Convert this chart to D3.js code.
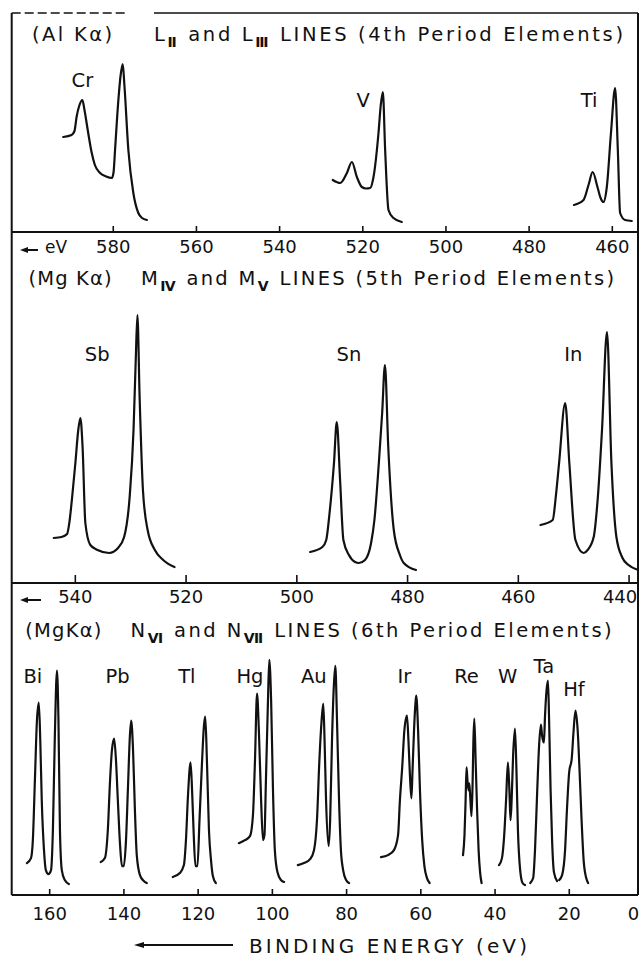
<!DOCTYPE html>
<html>
<head>
<meta charset="utf-8">
<script src="https://cdn.jsdelivr.net/npm/d3@7"></script>
<style>
  html, body { margin: 0; padding: 0; background: #fff; }
  svg { display: block; }
  text { font-family: "DejaVu Sans", "Noto Sans", sans-serif; fill: #111; }
</style>
</head>
<body>
<svg id="chart" width="640" height="959"></svg>
<script>
// ---------- axis ranges (binding energy, eV) and tick values ----------
const rangeL = [604.3, 453.7];
const rangeM = [551.4, 438.3];
const rangeN = [170.1, 1.35];
const ticksL = [580, 560, 540, 520, 500, 480, 460];
const ticksM = [540, 520, 500, 480, 460, 440];
const ticksN = [160, 140, 120, 100, 80, 60, 40, 20, 0];

// ---------- spectra: [binding energy (eV), intensity (arb. units)] ----------
// L(II), L(III) lines, 4th period (Al K-alpha)
const crL23 = [[591.9,95],[589.9,97],[589.2,101],[588.7,115],[588.0,127],[587.3,132],[586.8,122],[585.9,99],[585.1,80],[584.3,67],[583.05,59],[581.6,55.5],[580.2,54],[579.8,60],[579.45,82],[578.65,132],[578.1,157],[577.6,168],[577.2,147],[576.25,82],[575.05,39],[573.85,19],[572.95,14],[571.8,12]];
const vL23 = [[527.1,52],[525.3,49],[523.7,59],[522.5,70],[521.3,55],[520.1,45],[519.1,43.5],[518.1,44],[517.3,55],[516.1,99],[515.55,127],[515.05,140],[514.5,82],[513.7,22],[512.5,14],[510.5,10]];
const tiL23 = [[469.1,27],[466.8,32],[465.6,47],[464.6,60],[463.45,45],[462.7,34],[462.0,30],[461.2,45],[460.2,99],[459.2,144],[458.55,82],[458.0,19],[456.8,12],[455.2,11]];

// M(IV), M(V) lines, 5th period (Mg K-alpha)
const sbM45 = [[543.8,45],[542.4,46],[541.4,49],[541.0,60],[540.5,85],[539.9,120],[539.4,152],[539.0,165],[538.6,136],[538.1,60],[537.2,38],[535.9,33],[533.8,30],[532.2,35],[531.1,46],[530.1,86],[529.4,153],[529.0,223],[528.7,268],[528.3,186],[527.7,93],[526.85,53],[525.55,33],[524.05,23],[522.0,16]];
const snM45 = [[497.5,31],[495.3,36],[494.6,43],[494.0,70],[493.2,120],[492.7,161],[492.1,103],[491.5,43],[490.5,28],[489.4,21],[488.7,20],[487.6,23],[486.5,40],[485.9,63],[485.1,120],[484.5,170],[484.0,218],[483.4,136],[482.4,53],[481.3,28],[480.6,20],[478.4,13]];
const inM45 = [[455.9,58],[453.7,63],[453.15,86],[452.55,120],[451.45,180],[450.7,120],[449.6,43],[448.1,30],[447.4,33],[446.3,46],[445.55,86],[444.8,153],[443.9,251],[443.1,120],[442.2,46],[441.1,25],[440.0,18],[438.2,13]];

// N(VI), N(VII) lines, 6th period (Mg K-alpha)
const biN67 = [[166.0,32],[164.9,37],[164.4,55],[163.85,115],[163.3,175],[162.8,193],[162.4,155],[162.0,95],[161.4,45],[160.9,25],[160.2,21],[159.5,25],[159.0,65],[158.5,155],[157.9,225],[157.5,175],[157.1,65],[156.6,25],[155.8,15],[154.7,11]];
const pbN67 = [[146.1,33],[145.0,37],[144.2,65],[143.6,115],[143.1,145],[142.5,157],[142.0,135],[141.5,95],[140.9,50],[140.4,29],[139.9,29],[139.3,55],[138.8,105],[138.25,160],[137.9,175],[137.4,145],[136.9,85],[136.4,40],[135.55,20],[134.5,14],[133.7,12]];
const tlN67 = [[126.7,18],[124.8,22],[123.7,30],[123.15,55],[122.6,100],[121.9,133],[121.5,105],[121.1,65],[120.6,29],[120.05,29],[119.5,75],[118.8,135],[118.3,170],[117.95,179],[117.5,135],[116.95,65],[116.4,35],[115.9,19],[115.1,12]];
const hgN67 = [[108.9,52],[107.25,55],[105.9,59],[105.1,80],[104.55,135],[104.0,202],[103.5,165],[102.9,95],[102.4,55],[102.0,60],[101.6,115],[101.05,195],[100.7,236],[100.2,195],[99.7,105],[99.2,45],[98.5,23],[97.55,15],[96.7,13]];
const auN67 = [[93.0,30],[91.35,32],[89.7,36],[88.65,45],[87.85,75],[87.2,135],[86.6,175],[86.15,192],[85.8,155],[85.4,95],[84.7,49],[84.3,75],[83.8,155],[83.3,210],[82.9,230],[82.45,175],[81.9,95],[81.4,45],[80.8,25],[80.0,15],[79.2,12]];
const irN67 = [[70.6,38],[68.7,40],[67.1,45],[66.0,60],[65.5,95],[64.9,127],[64.3,165],[63.6,180],[63.2,155],[62.8,120],[62.4,97],[62.1,125],[61.7,165],[61.3,193],[61.1,200],[60.6,165],[60.1,105],[59.5,55],[58.9,29],[58.2,17],[57.5,12]];
const reN67 = [[48.5,40],[48.1,60],[47.8,95],[47.55,128],[47.3,115],[47.0,105],[46.8,112],[46.5,95],[46.2,79],[45.9,115],[45.7,155],[45.45,177],[45.1,135],[44.7,85],[44.3,45],[43.9,23],[43.5,12]];
const wN67 = [[38.8,30],[38.0,37],[37.4,60],[36.9,95],[36.4,133],[36.0,105],[35.7,75],[35.4,95],[35.0,140],[34.5,167],[34.1,125],[33.7,65],[33.1,25],[32.45,12],[31.8,10]];
const taN67 = [[30.4,12],[29.6,17],[29.1,45],[28.5,105],[28.0,150],[27.5,171],[27.2,160],[26.7,153],[26.4,180],[26.0,205],[25.6,215],[25.3,175],[24.9,105],[24.5,55],[24.0,23],[23.15,14]];
const hfN67 = [[22.6,15],[21.8,20],[21.0,45],[20.5,85],[19.9,123],[19.2,137],[18.7,165],[18.2,185],[17.6,165],[17.1,125],[16.55,75],[16.0,35],[15.3,17],[14.8,12]];

// ---------- element labels: [symbol, energy (eV), intensity] ----------
const labelsL = [["Cr", 587.3, 145], ["V", 519.8, 125], ["Ti", 465.45, 125]];
const labelsM = [["Sb", 535.95, 222], ["Sn", 490.5, 222], ["In", 450.0, 222]];
const labelsN = [["Bi", 164.4, 213], ["Pb", 141.6, 213], ["Tl", 122.9, 213], ["Hg", 105.9, 213],
                 ["Au", 88.7, 213], ["Ir", 64.3, 213], ["Re", 47.55, 213], ["W", 36.5, 213],
                 ["Ta", 26.7, 223], ["Hf", 18.6, 200]];

// ---------- layout ----------
const frame = { left: 11.7, right: 638, top: 13, bottom: 895 };
const panels = [
  { id: "L", range: rangeL, ticks: ticksL, spectra: [crL23, vL23, tiL23], labels: labelsL,
    top: 14, axisY: 232, maxI: 218, tickLen: 6, tickPad: 8,
    source: "(Al K\u03b1)", sourceW: 80, sourceX: 32,
    title: [["L"], ["\u2161", true], [" and L"], ["\u2162", true], [" LINES (4th Period Elements)"]],
    titleX: 154, titleW: 469, titleY: 41, arrowLabel: "eV" },
  { id: "M", range: rangeM, ticks: ticksM, spectra: [sbM45, snM45, inM45], labels: labelsM,
    top: 233, axisY: 583, maxI: 350, tickLen: 8, tickPad: 7,
    source: "(Mg K\u03b1)", sourceW: 83, sourceX: 28.6,
    title: [["M"], ["\u2163", true], [" and M"], ["\u2164", true], [" LINES (5th Period Elements)"]],
    titleX: 141, titleW: 473, titleY: 285, arrowLabel: "" },
  { id: "N", range: rangeN, ticks: ticksN, spectra: [biN67, pbN67, tlN67, hgN67, auN67, irN67, reN67, wN67, taN67, hfN67], labels: labelsN,
    top: 584, axisY: 895, maxI: 312, tickLen: 6, tickPad: 12,
    source: "(MgK\u03b1)", sourceW: 76, sourceX: 25.3,
    title: [["N"], ["\u2165", true], [" and N"], ["\u2166", true], [" LINES (6th Period Elements)"]],
    titleX: 130.6, titleW: 481, titleY: 637, arrowLabel: null }
];

// the last tick label of a row sits against the right border, so pull it inside
const edgeShift = { 440: -9, 0: -10 };

const svg = d3.select("#chart");
const defs = svg.append("defs");
const ink = "#111";

panels.forEach(p => {
  const x = d3.scaleLinear().domain(p.range).range([frame.left, frame.right]);
  const y = d3.scaleLinear().domain([0, p.maxI]).range([p.axisY, p.top]);

  defs.append("clipPath").attr("id", "clip-" + p.id)
    .append("rect")
    .attr("x", frame.left).attr("y", p.top - 1)
    .attr("width", frame.right - frame.left).attr("height", p.axisY - p.top + 1);

  const g = svg.append("g");

  // spectra
  const line = d3.line().x(d => x(d[0])).y(d => y(d[1])).curve(d3.curveMonotoneX);
  g.append("g").attr("clip-path", "url(#clip-" + p.id + ")")
    .selectAll("path").data(p.spectra).join("path")
    .attr("d", line)
    .attr("fill", "none").attr("stroke", ink)
    .attr("stroke-width", 2.2).attr("stroke-linejoin", "round").attr("stroke-linecap", "round");

  // element symbols
  g.selectAll("text.el").data(p.labels).join("text")
    .attr("class", "el")
    .attr("x", d => x(d[1])).attr("y", d => y(d[2]))
    .attr("text-anchor", "middle")
    .attr("font-size", 19.5)
    .text(d => d[0]);

  // titles
  g.append("text")
    .attr("x", p.sourceX).attr("y", p.titleY)
    .attr("font-size", 19.5)
    .attr("textLength", p.sourceW).attr("lengthAdjust", "spacing")
    .text(p.source);

  const t = g.append("text")
    .attr("x", p.titleX).attr("y", p.titleY)
    .attr("font-size", 19.5)
    .attr("textLength", p.titleW).attr("lengthAdjust", "spacing");
  p.title.forEach((part, i) => {
    const s = t.append("tspan").text(part[0]);
    if (part[1]) {
      s.attr("font-size", 14).attr("dy", 6).attr("font-weight", "bold");
    } else if (i > 0) {
      s.attr("dy", -6);
    }
  });

  // energy axis along the bottom of the panel
  const axis = d3.axisBottom(x)
    .tickValues(p.ticks)
    .tickSize(-p.tickLen)
    .tickPadding(p.tickPad)
    .tickFormat(d3.format("d"));
  const ag = g.append("g").attr("transform", `translate(0,${p.axisY})`).call(axis);
  ag.select(".domain").remove();
  ag.selectAll(".tick line").attr("stroke", ink).attr("stroke-width", 1.6);
  ag.selectAll(".tick text")
    .attr("fill", ink)
    .attr("font-size", 18)
    .attr("font-family", "\"DejaVu Sans\", sans-serif")
    .attr("dx", d => edgeShift[d] || 0);

  // "<- eV" marker at the start of the tick row
  if (p.arrowLabel !== null) {
    const ay = p.axisY + p.tickPad + 10;
    const ax0 = 20, ax1 = p.arrowLabel ? 38 : 41;
    g.append("line").attr("x1", ax0 + 4).attr("x2", ax1).attr("y1", ay).attr("y2", ay)
      .attr("stroke", ink).attr("stroke-width", 2);
    g.append("path")
      .attr("d", `M${ax0},${ay} L${ax0 + 8},${ay - 3} L${ax0 + 8},${ay + 3} Z`)
      .attr("fill", ink);
    if (p.arrowLabel) {
      g.append("text").attr("x", 45).attr("y", p.axisY + 21)
        .attr("font-size", 17).text(p.arrowLabel);
    }
  }
});

// frame and panel dividers
const fr = svg.append("g").attr("stroke", ink).attr("fill", "none").attr("stroke-width", 2);
fr.append("line").attr("x1", frame.left).attr("x2", frame.left).attr("y1", frame.top).attr("y2", frame.bottom);
fr.append("line").attr("x1", frame.right).attr("x2", frame.right).attr("y1", frame.top).attr("y2", frame.bottom);
panels.forEach(p => {
  fr.append("line").attr("x1", frame.left).attr("x2", frame.right).attr("y1", p.axisY).attr("y2", p.axisY);
});
fr.append("line").attr("x1", frame.left).attr("x2", 125).attr("y1", frame.top).attr("y2", frame.top)
  .attr("stroke-dasharray", "9,4").attr("stroke-width", 1.6);
fr.append("line").attr("x1", 154).attr("x2", frame.right).attr("y1", frame.top).attr("y2", frame.top)
  .attr("stroke-width", 1.6);

// axis caption with direction arrow
const cap = svg.append("g");
cap.append("line").attr("x1", 140).attr("x2", 233).attr("y1", 945).attr("y2", 945)
  .attr("stroke", ink).attr("stroke-width", 2);
cap.append("path").attr("d", "M134,945 L144,942 L144,948 Z").attr("fill", ink);
cap.append("text").attr("x", 249).attr("y", 953)
  .attr("font-size", 20)
  .attr("textLength", 278).attr("lengthAdjust", "spacing")
  .text("BINDING ENERGY (eV)");
</script>
</body>
</html>
